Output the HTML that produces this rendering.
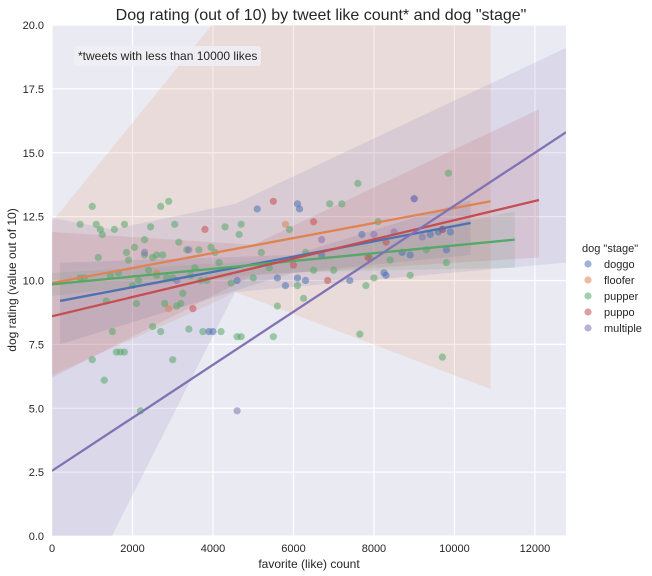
<!DOCTYPE html>
<html><head><meta charset="utf-8"><style>
html,body{margin:0;padding:0;background:#fff;overflow:hidden;width:652px;height:576px;font-family:"Liberation Sans",Arial,sans-serif;}
svg{display:block;}
svg text{font-family:"Liberation Sans",Arial,sans-serif;}
</style></head><body>
<svg id="chart" width="652" height="576">
<defs><clipPath id="clip"><rect x="52" y="25" width="514" height="511"/></clipPath></defs>
<rect x="52" y="25" width="514" height="511" fill="#eaeaf2"/>
<g id="grid"></g>
<g id="bands" clip-path="url(#clip)"></g>
<g id="pts" clip-path="url(#clip)"></g>
<g id="lines" clip-path="url(#clip)"></g>
<g id="axes"></g>
<text x="321" y="20" text-anchor="middle" font-size="16" fill="#262626">Dog rating (out of 10) by tweet like count* and dog "stage"</text>
<rect x="74" y="46" width="187" height="20" rx="3" fill="#eeeef4" opacity="0.85"/>
<text x="78" y="60" font-size="12" fill="#262626">*tweets with less than 10000 likes</text>
<text x="309" y="568" text-anchor="middle" font-size="12" fill="#262626">favorite (like) count</text>
<text transform="translate(16,280) rotate(-90)" text-anchor="middle" font-size="12" fill="#262626">dog rating (value out of 10)</text>
<g id="legend"></g>
</svg>
<script>
const xTicks=[0,2000,4000,6000,8000,10000,12000];
const yTicks=[0,2.5,5,7.5,10,12.5,15,17.5,20];
const seriesNames=["doggo","floofer","pupper","puppo","multiple"];
const colors=["#4c72b0","#dd8452","#55a868","#c44e52","#8172b3"];
const doggoFav=[3900,4000,5100,5600,6100,6100,6150,6300,6700,7400,7700,8300,8700,8900,9000,9400,9600,9700,9800,9900,8250,4600,5800];
const doggoRating=[8.0,8.0,12.8,10.1,10.1,13.0,12.8,10.0,11.0,10.0,11.8,10.2,11.1,11.0,13.2,11.8,11.9,12.0,11.2,11.9,10.3,10.0,9.8];
const flooferFav=[2600,5800,2900];
const flooferRating=[10.3,12.2,8.9];
const pupperFav=[700,800,1100,1150,1200,1250,1350,1450,1550,1650,1800,1850,1900,2000,2050,2150,2200,2300,2400,2450,2500,2600,2700,2750,2800,2850,2900,3000,3050,3150,3250,3350,3450,3550,3650,3750,3850,3950,4050,4150,4300,4450,4600,4650,4700,5000,5200,5400,5600,5900,6300,6500,6900,7000,7200,7600,7650,7900,8000,8100,8400,8900,9300,9700,9800,9850,700,1300,1500,2300,2700,3000,3200,1000,1600,2100,2500,3400,3700,4200,4700,5500,7800,1000,1800,2600,3100,1700,6250,6100];
const pupperRating=[12.2,10.1,12.2,10.9,12.0,11.8,9.2,10.2,12.0,10.3,12.2,11.1,10.8,9.8,11.3,10.0,4.9,11.6,10.4,12.1,10.9,10.2,12.9,11.0,9.1,10.1,13.1,10.1,12.2,11.5,9.5,11.2,10.2,10.5,11.2,8.0,10.0,11.3,11.1,10.7,12.1,9.9,7.8,11.8,12.2,10.1,11.1,10.5,9.0,12.0,11.1,10.4,13.0,10.4,13.0,13.8,7.9,10.9,10.1,12.3,10.8,10.2,11.2,7.0,10.7,14.2,10.1,6.1,8.0,11.0,8.0,6.9,9.1,6.9,7.2,9.1,8.2,8.1,10.0,8.0,7.8,7.8,9.8,12.9,7.2,11.0,9.0,7.2,9.3,9.8];
const puppoFav=[3500,5500,6000,6500,6850,7850,8300,9700,3800];
const puppoRating=[8.9,13.1,10.6,12.3,10.0,10.9,11.5,12.0,12.0];
const multipleFav=[2300,3100,4600,8500,9000,9200,8000,6700,3400];
const multipleRating=[11.1,10.0,4.9,11.9,13.2,11.7,11.8,11.6,11.2];
const lineStart=[[200,9.2],[0,9.9],[0,9.85],[0,8.6],[0,2.55]];
const lineEnd=[[10400,12.25],[10900,13.1],[11500,11.6],[12100,13.15],[12770,15.8]];
const bandX=[[200,6000,10400],[0,3975,4550,10900],[0,5500,11500],[0,5000,12100],[0,1490,4550,12770]];
const bandLow=[[7.5,10.3,11.0],[6.3,9.1,9.55,5.75],[9.4,10.3,10.5],[6.2,10.2,10.9],[-3,0,9.55,10.7]];
const bandHigh=[[10.7,11.0,13.15],[12.3,20,21,40],[10.3,10.8,12.7],[11.9,11.4,16.7],[12.45,12.0,13.0,19.1]];
const X=v=>52+v*0.040245, Y=v=>536-v*25.55;
const NS="http://www.w3.org/2000/svg";
function mk(p,t,a){const e=document.createElementNS(NS,t);for(const k in a)e.setAttribute(k,a[k]);p.appendChild(e);return e;}
const grid=document.getElementById('grid'),axes=document.getElementById('axes');
xTicks.forEach(t=>{const l=mk(grid,'line',{x1:X(t),x2:X(t),y1:25,y2:536,stroke:'#fff','stroke-width':1.2});


const tx=mk(axes,'text',{x:X(t),y:552,'text-anchor':'middle','font-size':11,fill:'#262626'});tx.textContent=t;

});
yTicks.forEach(t=>{const l=mk(grid,'line',{x1:52,x2:566,y1:Y(t),y2:Y(t),stroke:'#fff','stroke-width':1.2});


const tx=mk(axes,'text',{x:44,y:Y(t)+4,'text-anchor':'end','font-size':11,fill:'#262626'});tx.textContent=t.toFixed(1);

});
const bands=document.getElementById('bands');
seriesNames.forEach((s,i)=>{const xs=bandX[i];let pts=xs.map((x,j)=>X(x)+','+Y(bandHigh[i][j]));
for(let j=xs.length-1;j>=0;j--)pts.push(X(xs[j])+','+Y(bandLow[i][j]));
const p=mk(bands,'polygon',{points:pts.join(' '),fill:colors[i],'fill-opacity':0.15});

});
const ptsG=document.getElementById('pts');
const favs=[doggoFav,flooferFav,pupperFav,puppoFav,multipleFav],rats=[doggoRating,flooferRating,pupperRating,puppoRating,multipleRating];
[2,0,1,3,4].forEach(i=>{favs[i].forEach((f,j)=>{const c=mk(ptsG,'circle',{cx:X(f),cy:Y(rats[i][j]),r:3.6,fill:colors[i],'fill-opacity':0.55});

});});
const linesG=document.getElementById('lines');
seriesNames.forEach((s,i)=>{const l=mk(linesG,'line',{x1:X(lineStart[i][0]),y1:Y(lineStart[i][1]),x2:X(lineEnd[i][0]),y2:Y(lineEnd[i][1]),stroke:colors[i],'stroke-width':2.3});

});
const lg=document.getElementById('legend');
const lt=mk(lg,'text',{x:582,y:252,'font-size':11,fill:'#262626'});lt.textContent='dog "stage"';


seriesNames.forEach((s,i)=>{const y=268+i*16;
const c=mk(lg,'circle',{cx:588,cy:y-4,r:3.6,fill:colors[i],'fill-opacity':0.55});


const t=mk(lg,'text',{x:604,y:y,'font-size':11,fill:'#262626'});t.textContent=s;

});
</script>
</body></html>
